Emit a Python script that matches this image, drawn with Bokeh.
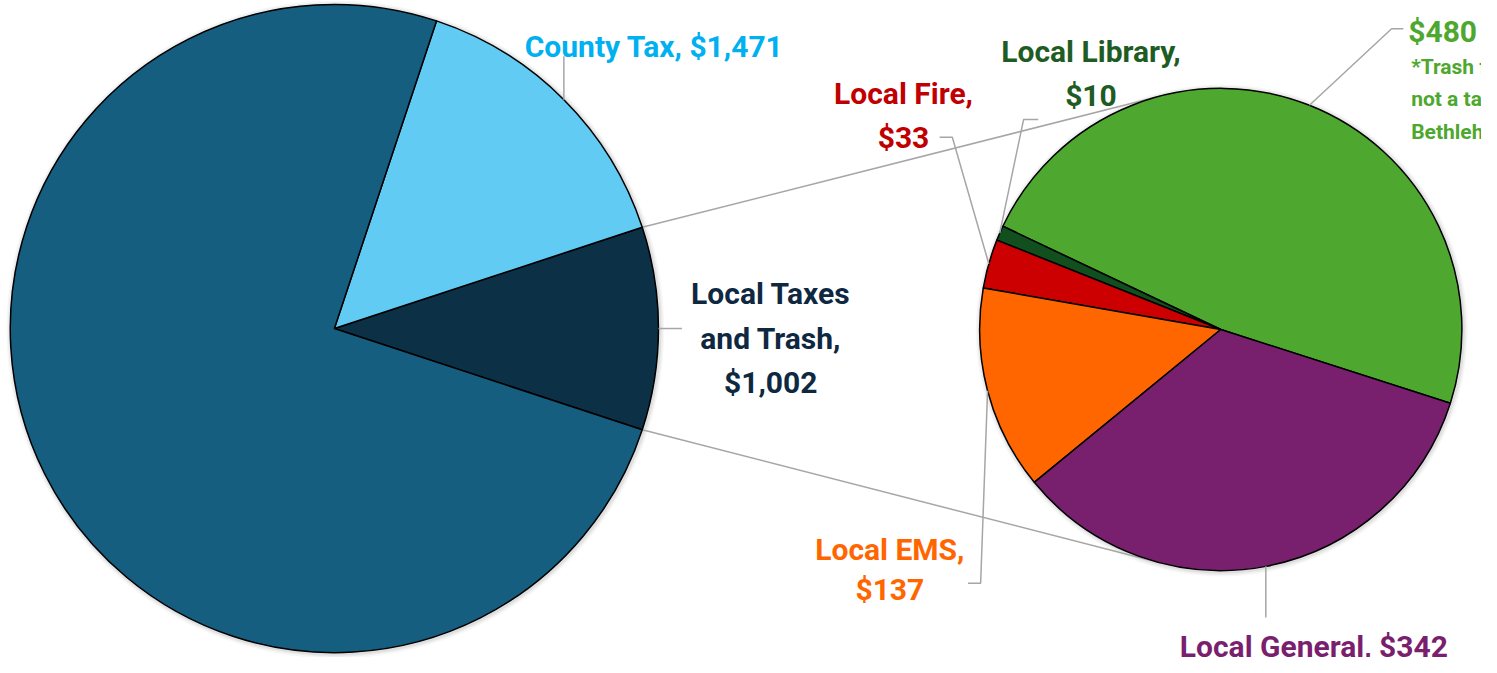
import numpy as np
from bokeh.plotting import figure
from bokeh.models import Range1d, ColumnDataSource
from bokeh.embed import file_html
from bokeh.resources import INLINE
from bokeh.core.properties import value

# ---------------- data ----------------
main_labels = ["School Tax", "County Tax", "Local Taxes and Trash"]
main_values = [7437, 1471, 1002]
main_colors = ["#165E80", "#61CBF4", "#0C3045"]

sub_labels = ["Local Trash*", "Local Library", "Local Fire", "Local EMS", "Local General"]
sub_values = [480, 10, 33, 137, 342]
sub_colors = ["#4EA72E", "#124F1E", "#CC0000", "#FF6600", "#78206E"]

trash_note = ["*Trash fee is", "not a tax in", "Bethlehem"]

# ---------------- layout ----------------
H = 673
def Y(py):
    return H - py

W_PX, H_PX = 1481, 657
XMAX = W_PX * H / H_PX

FONT = "Roboto"
FS = "30px"
LEADER = "#A6A6A6"

p = figure(width=W_PX, height=H_PX, x_range=Range1d(0, XMAX), y_range=Range1d(0, H),
           output_backend="svg", toolbar_location=None, min_border=0,
           x_axis_type=None, y_axis_type=None)
p.grid.visible = False
p.outline_line_color = None
p.background_fill_color = "white"

C1 = (342.0, Y(336)); R1 = 332.0
C2 = (1250.0, Y(337)); R2 = 247.0

# big pie angles: split slice (last) centered at 0, going anticlockwise
T1 = float(sum(main_values))
order1 = [2, 1, 0]
a = -main_values[2] / T1 * np.pi
big_s, big_e, big_c, big_mid = [], [], [], {}
for i in order1:
    span = main_values[i] / T1 * 2 * np.pi
    big_s.append(a); big_e.append(a + span); big_c.append(main_colors[i])
    big_mid[i] = a + span / 2
    a += span
local_start = big_s[0]; local_end = big_e[0]

# small pie angles
T2 = float(sum(sub_values))
a = np.radians(-17.8)
sm_s, sm_e, sm_mid = [], [], []
for v in sub_values:
    span = v / T2 * 2 * np.pi
    sm_s.append(a); sm_e.append(a + span); sm_mid.append(a + span / 2)
    a += span

# soft shadows
for k, al in [(5, 0.03), (3.5, 0.04), (2, 0.06)]:
    p.circle(x=[C1[0] + 1], y=[C1[1] - 1], radius=R1 + k, fill_color="black", fill_alpha=al, line_color=None)
    p.circle(x=[C2[0] + 1], y=[C2[1] - 1], radius=R2 + k, fill_color="black", fill_alpha=al, line_color=None)

# connector tangent lines
def tangent(angle, sign):
    P = np.array([C1[0] + R1 * np.cos(angle), C1[1] + R1 * np.sin(angle)])
    d = np.array(C2) - P
    dist = np.hypot(*d)
    beta = np.arcsin(R2 / dist)
    th = np.arctan2(d[1], d[0]) + sign * beta
    L = np.sqrt(dist ** 2 - R2 ** 2)
    E = P + L * np.array([np.cos(th), np.sin(th)])
    return [P[0], E[0]], [P[1], E[1]]

for ang, sg in [(local_end, 1), (local_start, -1)]:
    xs, ys = tangent(ang, sg)
    p.line(xs, ys, line_color=LEADER, line_width=1.5)

# pies
p.wedge(x=C1[0], y=C1[1], radius=R1, start_angle=big_s, end_angle=big_e,
        fill_color=big_c, line_color="black", line_width=1.5)
p.wedge(x=C2[0], y=C2[1], radius=R2, start_angle=sm_s, end_angle=sm_e,
        fill_color=sub_colors, line_color="black", line_width=1.5)

# leader lines
def edge(C, R, ang):
    return C[0] + R * np.cos(ang), C[1] + R * np.sin(ang)

leaders = [
    (edge(C1, R1, big_mid[1]), [("x", 57)]),
    (edge(C1, R1, big_mid[2]), [(698, "y")]),
    (edge(C2, R2, sm_mid[0]), [(1425, 29), (1437, 29)]),
    (edge(C2, R2, sm_mid[1]), [(1048, 122), (1063, 122)]),
    (edge(C2, R2, sm_mid[2]), [(975, 140), (962, 140)]),
    (edge(C2, R2, sm_mid[3]), [(1004, 597), (991, 597)]),
    (edge(C2, R2, sm_mid[4]), [("x", 632)]),
]
for (sx, sy), pts in leaders:
    xs, ys = [sx], [sy]
    for px, py in pts:
        xs.append(sx if px == "x" else px)
        ys.append(sy if py == "y" else Y(py))
    p.line(xs, ys, line_color=LEADER, line_width=1.5)

# labels
def money(v):
    return "${:,}".format(v)

def label(lines, x, baselines, color, align="center", size=FS):
    src = ColumnDataSource(dict(x=[x] * len(lines), y=[Y(b) for b in baselines], t=lines))
    p.text(x="x", y="y", text="t", source=src, text_font=value(FONT), text_font_size=size,
           text_font_style="bold", text_color=color, text_align=align, text_baseline="alphabetic")

label([f"{main_labels[1]}, {money(main_values[1])}"], 537, [47], "#00B0F0", "left")
label(["Local Taxes", "and Trash,", money(main_values[2])], 789, [300, 346, 391], "#0E2841")
label([f"{sub_labels[1]},", money(sub_values[1])], 1117, [52, 97], "#1E5C23")
label([f"{sub_labels[2]},", money(sub_values[2])], 925, [95, 140], "#C00000")
label([f"{sub_labels[3]},", money(sub_values[3])], 911, [562, 603], "#FF6600")
label([f"{sub_labels[4]}, {money(sub_values[4])}"], 1208, [662], "#7A1F6E", "left")
label([money(sub_values[0])], 1442, [32], "#4EA72E", "left")
label(trash_note, 1445, [68, 101, 135], "#4EA72E", "left", size="21px")

open("out.html", "w").write(file_html(p, INLINE))
